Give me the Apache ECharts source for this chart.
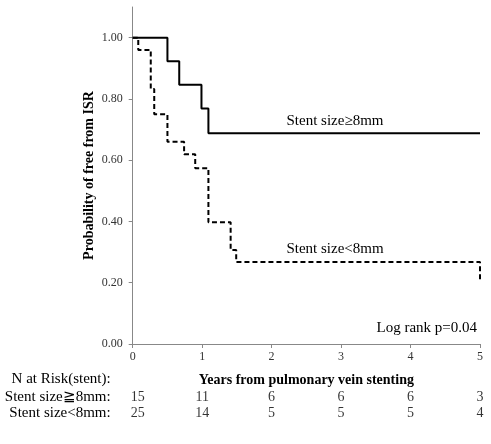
<!DOCTYPE html>
<html>
<head>
<meta charset="utf-8">
<script src="https://cdn.jsdelivr.net/npm/echarts@6/dist/echarts.min.js"></script>
<style>
  html, body { margin: 0; padding: 0; background: #fff; }
  #chart { width: 491px; height: 444px; }
</style>
</head>
<body>
<div id="chart"></div>
<script>
// Kaplan-Meier steps: time (years) and survival after each drop
const bigTimes = [0, 0.50, 0.67, 0.99, 1.09, 5];
const bigSurv = [1.0, 0.923, 0.846, 0.769, 0.688, 0.688];
const smallTimes = [0, 0.08, 0.26, 0.31, 0.50, 0.74, 0.90, 1.09, 1.41, 1.49, 5];
const smallSurv = [1.0, 0.96, 0.832, 0.75, 0.66, 0.619, 0.574, 0.397, 0.307, 0.268, 0.209];

const yTicks = [0, 0.2, 0.4, 0.6, 0.8, 1.0];
const riskYears = [0, 1, 2, 3, 4, 5];
const riskRows = ['Stent size≧8mm:', 'Stent size<8mm:'];
const riskBig = [15, 11, 6, 6, 6, 3];
const riskSmall = [25, 14, 5, 5, 5, 4];

const font = '"Liberation Serif", "Times New Roman", serif';
const chart = echarts.init(document.getElementById('chart'));

const pairs = (xs, ys) => xs.map((x, i) => [x, ys[i]]);
const riskData = [];
[riskBig, riskSmall].forEach((row, r) => {
  row.forEach((n, i) => {
    const item = { value: [riskYears[i], r], name: String(n) };
    if (i === 0) item.label = { align: 'left', offset: [-2, 0] };
    riskData.push(item);
  });
});

const option = {
  backgroundColor: '#fff',
  animation: false,
  textStyle: { fontFamily: font },
  grid: [
    { left: 132.7, right: 11, top: 7, bottom: 100 },
    { left: 132.7, right: 11, top: 389, height: 32 },
  ],
  xAxis: [
    {
      type: 'value', gridIndex: 0, min: 0, max: 5, interval: 1,
      name: 'Years from pulmonary vein stenting',
      nameLocation: 'middle', nameGap: 29, nameMoveOverlap: false,
      nameTextStyle: { fontFamily: font, fontWeight: 'bold', fontSize: 14, color: '#000' },
      axisLine: { lineStyle: { color: '#888', width: 1 } },
      axisTick: { show: true, length: 4, lineStyle: { color: '#888' } },
      axisLabel: { fontFamily: font, fontSize: 12, color: '#333', margin: 7 },
      splitLine: { show: false },
    },
    {
      type: 'value', gridIndex: 1, min: 0, max: 5,
      axisLine: { show: false }, axisTick: { show: false },
      axisLabel: { show: false }, splitLine: { show: false },
    },
  ],
  yAxis: [
    {
      type: 'value', gridIndex: 0, min: 0, max: 1.1,
      name: 'Probability of free from ISR',
      nameLocation: 'middle', nameGap: 36, nameMoveOverlap: false,
      nameTextStyle: { fontFamily: font, fontWeight: 'bold', fontSize: 14, color: '#000' },
      axisLine: { show: true, lineStyle: { color: '#888', width: 1 } },
      axisTick: { show: true, length: 4, customValues: yTicks, lineStyle: { color: '#888' } },
      axisLabel: {
        fontFamily: font, fontSize: 12, color: '#333', margin: 10,
        customValues: yTicks,
        formatter: (v) => v.toFixed(2),
      },
      splitLine: { show: false },
    },
    {
      type: 'category', gridIndex: 1, data: riskRows, inverse: true,
      name: 'N at Risk(stent):',
      nameLocation: 'start', nameGap: 0, nameMoveOverlap: false,
      nameTextStyle: { fontFamily: font, fontSize: 15, color: '#000', align: 'right', padding: [0, 22, 2, 0] },
      axisLine: { show: false }, axisTick: { show: false },
      axisLabel: { interval: 0, fontFamily: font, fontSize: 15, color: '#000', margin: 22 },
    },
  ],
  series: [
    {
      name: 'Stent size≥8mm', type: 'line', step: 'end',
      xAxisIndex: 0, yAxisIndex: 0,
      data: pairs(bigTimes, bigSurv), showSymbol: false,
      lineStyle: { color: '#000', width: 2, type: 'solid' },
    },
    {
      name: 'Stent size<8mm', type: 'line', step: 'end',
      xAxisIndex: 0, yAxisIndex: 0,
      data: pairs(smallTimes, smallSurv), showSymbol: false,
      lineStyle: { color: '#000', width: 2, type: [5, 3] },
    },
    {
      type: 'scatter', xAxisIndex: 1, yAxisIndex: 1,
      symbolSize: 0, data: riskData,
      label: {
        show: true, position: 'inside', formatter: (p) => p.name,
        fontFamily: font, fontSize: 14, color: '#000',
      },
    },
  ],
  graphic: [
    { type: 'text', x: 335, y: 121, style: { text: 'Stent size≥8mm', font: '15px ' + font, fill: '#000', align: 'center', verticalAlign: 'middle' } },
    { type: 'text', x: 335, y: 249, style: { text: 'Stent size<8mm', font: '15px ' + font, fill: '#000', align: 'center', verticalAlign: 'middle' } },
    { type: 'text', x: 477, y: 328, style: { text: 'Log rank p=0.04', font: '15px ' + font, fill: '#000', align: 'right', verticalAlign: 'middle' } },
  ],
};
chart.setOption(option);
</script>
</body>
</html>
